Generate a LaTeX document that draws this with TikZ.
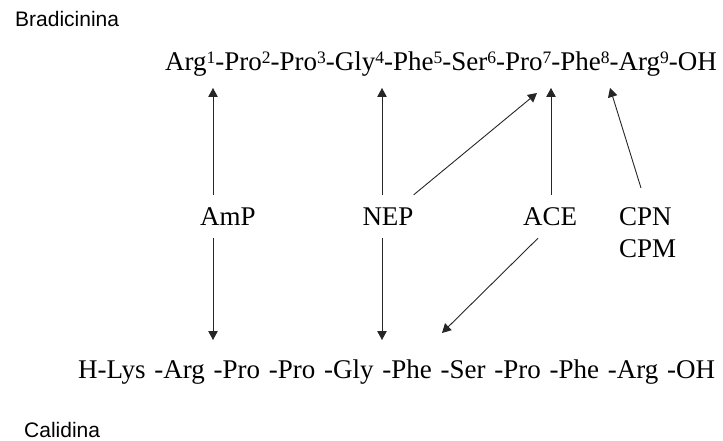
\documentclass[tikz,border=0pt]{standalone}
\usepackage{fontspec}
\setmainfont{Liberation Serif}
\newfontfamily\labelsans{Liberation Sans}
\usetikzlibrary{arrows.meta}
% residue numbers set as small raised digits
\newcommand\supnum[1]{\raisebox{0.28em}{\fontsize{17.5}{17.5}\selectfont #1}}
% same width as a residue number, left blank
\newcommand\supgap[1]{\phantom{\supnum{#1}}}

\begin{document}
\begin{tikzpicture}[x=1pt,y=-1pt,
  seq/.style={anchor=base west, inner sep=0pt, font=\fontsize{27}{32}\selectfont},
  enz/.style={inner sep=0pt, minimum height=43pt, text height=18pt, text depth=0pt,
              font=\fontsize{27}{32}\selectfont},
  enzline/.style={anchor=base west, inner sep=0pt, font=\fontsize{27}{32}\selectfont},
  title/.style={anchor=base west, inner sep=0pt, font=\labelsans\fontsize{21}{25}\selectfont},
  cut/.style={-{Triangle[length=9pt,width=9.5pt]}, line width=0.9pt, draw=black!85}]
\useasboundingbox (0,0) rectangle (723,441);

% titles
\node[title] (tbk) at (15,27) {Bradicinina};
\node[title] (tkd) at (24,437) {Calidina};

% peptide sequences
\node[seq] (bk) at (165,71) {Arg\supnum{1}-Pro\supnum{2}-Pro\supnum{3}-Gly\supnum{4}-Phe\supnum{5}-Ser\supnum{6}-Pro\supnum{7}-Phe\supnum{8}-Arg\supnum{9}-OH};
\node[seq] (kd) at (78,378) {H-Lys\supgap{0}-Arg\supgap{1}-Pro\supgap{2}-Pro\supgap{3}-Gly\supgap{4}-Phe\supgap{5}-Ser\supgap{6}-Pro\supgap{7}-Phe\supgap{8}-Arg\supgap{9}-OH};

% peptidases
\node[enz] (amp) at (228,216.5) {AmP};
\node[enz] (nep) at (388,216.5) {NEP};
\node[enz] (ace) at (550,216.5) {ACE};
\node[enzline] (cpn) at (619,225) {CPN};
\node[enzline] (cpm) at (619,257) {CPM};

% cleavage sites
\coordinate (bk12) at (213,88);
\coordinate (bk45) at (382,88);
\coordinate (bk78a) at (537,93);
\coordinate (bk78b) at (551,88);
\coordinate (bk89) at (610,88);
\coordinate (kd12) at (213,340);
\coordinate (kd56) at (382,340);
\coordinate (kd67) at (442,333);
\coordinate (cpntail) at (641,188);

% cleavage arrows
\draw[cut] (amp.north -| bk12) -- (bk12);
\draw[cut] (amp.south -| kd12) -- (kd12);
\draw[cut] (nep.north -| bk45) -- (bk45);
\draw[cut] (nep.south -| kd56) -- (kd56);
\draw[cut] (nep.north east) -- (bk78a);
\draw[cut] (ace.north -| bk78b) -- (bk78b);
\draw[cut] ([xshift=-12pt]ace.south) -- (kd67);
\draw[cut] (cpntail) -- (bk89);
\end{tikzpicture}
\end{document}
